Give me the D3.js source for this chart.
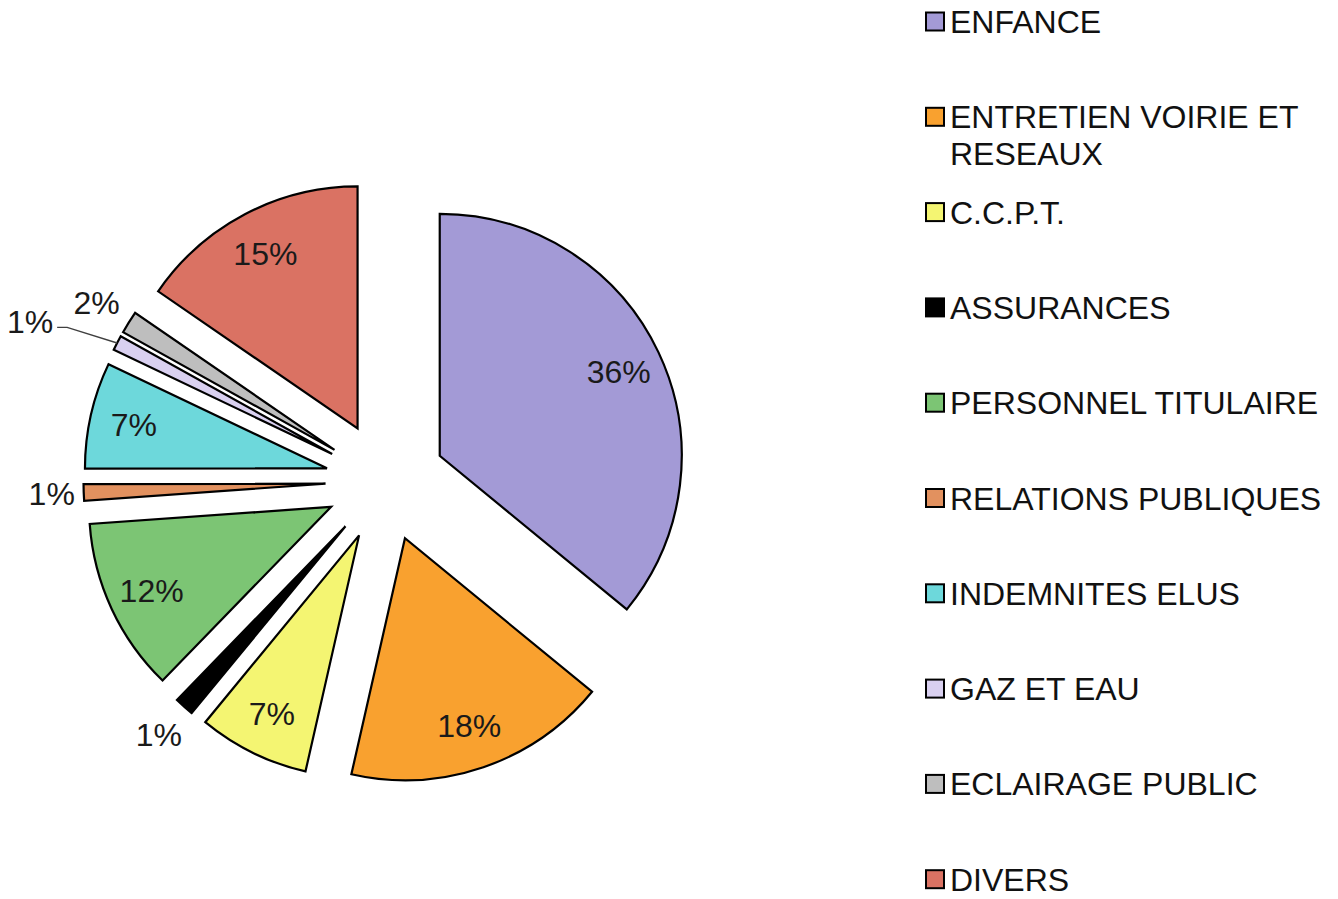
<!DOCTYPE html>
<html>
<head>
<meta charset="utf-8">
<script src="https://cdn.jsdelivr.net/npm/d3@7"></script>
<style>
  html, body { margin: 0; padding: 0; background: #ffffff; }
  svg { display: block; }
  text { font-family: "Liberation Sans", Arial, sans-serif; }
</style>
</head>
<body>
<svg id="chart" width="1338" height="899"></svg>
<script>
// ---- data ----
const categories = [
  "ENFANCE",
  "ENTRETIEN VOIRIE ET RESEAUX",
  "C.C.P.T.",
  "ASSURANCES",
  "PERSONNEL TITULAIRE",
  "RELATIONS PUBLIQUES",
  "INDEMNITES ELUS",
  "GAZ ET EAU",
  "ECLAIRAGE PUBLIC",
  "DIVERS"
];
const values = [35.9, 17.6, 7.4, 1.3, 11.6, 1.1, 7.1, 1.0, 1.5, 15.4];
const colors = [
  "#A39AD6", "#F9A12F", "#F4F572", "#000000", "#7CC574",
  "#E2915F", "#6DD8DB", "#D9D0F0", "#BEBEBE", "#DA7263"
];

// ---- layout ----
const W = 1338, H = 899;
const cx = 385.5, cy = 481.5;
const R = 242;
const explode = 60;
const fontSize = 32;
const capShift = 0.36 * fontSize; // baseline offset to centre capitals

const svg = d3.select("#chart");
svg.append("rect").attr("width", W).attr("height", H).attr("fill", "#fff");

const total = d3.sum(values);
const data = categories.map((c, i) => ({ name: c, value: values[i], color: colors[i] }));

const pie = d3.pie().sort(null).value(d => d.value);
const arcs = pie(data);
const arc = d3.arc().innerRadius(0).outerRadius(R);

const g = svg.append("g").attr("transform", `translate(${cx},${cy})`);

function dir(a) { return [Math.sin(a), -Math.cos(a)]; }

arcs.forEach(a => {
  const mid = (a.startAngle + a.endAngle) / 2;
  const [dx, dy] = dir(mid);
  a.ox = dx * explode;
  a.oy = dy * explode;
  a.mid = mid;
});

g.selectAll("path.slice")
  .data(arcs)
  .join("path")
  .attr("class", "slice")
  .attr("transform", d => `translate(${d.ox},${d.oy})`)
  .attr("d", arc)
  .attr("fill", d => d.data.color)
  .attr("stroke", "#000")
  .attr("stroke-width", 2.2)
  .attr("stroke-linejoin", "miter");

// ---- data labels ----
const pct = d => Math.round(d.data.value / total * 100) + "%";
const smallThreshold = 3; // percent: labels placed outside
const insideR = 198, outsideR = 280;

arcs.forEach((d, i) => {
  const share = d.data.value / total * 100;
  let r = share < smallThreshold ? outsideR : insideR;
  let ang = d.mid;
  let leader = false;
  if (d.data.name === "GAZ ET EAU") { r = 330; ang = d.mid - 3.6 * Math.PI / 180; leader = true; }
  if (d.data.name === "RELATIONS PUBLIQUES") { r = 274; }
  const [ux, uy] = dir(ang);
  const lx = d.ox + ux * r, ly = d.oy + uy * r;
  const t = g.append("text")
    .attr("x", lx).attr("y", ly + capShift)
    .attr("text-anchor", "middle")
    .attr("font-size", fontSize)
    .attr("fill", "#1a1a1a")
    .text(pct(d));
  if (leader) {
    const w = t.node().getComputedTextLength();
    const [mx, my] = dir(d.mid);
    const ex = d.ox + mx * R, ey = d.oy + my * R;
    const sx = lx + w / 2 + 4, sy = ly + 6;
    g.insert("path", "text")
      .attr("d", `M${sx},${sy} L${sx + 10},${sy} L${ex},${ey}`)
      .attr("fill", "none")
      .attr("stroke", "#404040")
      .attr("stroke-width", 1.4);
  }
});

// ---- legend ----
const legX = 926, legY0 = 21.5, legStep = 95.3, sw = 18, maxW = 400, lineH = 37;
const leg = svg.append("g");
data.forEach((d, i) => {
  const y = legY0 + i * legStep;
  leg.append("rect")
    .attr("x", legX).attr("y", y - sw / 2)
    .attr("width", sw).attr("height", sw)
    .attr("fill", d.color)
    .attr("stroke", "#000").attr("stroke-width", 2);
  const t = leg.append("text")
    .attr("x", legX + 24).attr("y", y + capShift)
    .attr("font-size", fontSize)
    .attr("fill", "#111");
  // wrap words
  const words = d.name.split(" ");
  let line = [];
  let ts = t.append("tspan").attr("x", legX + 24).attr("dy", 0);
  words.forEach(w => {
    line.push(w);
    ts.text(line.join(" "));
    if (ts.node().getComputedTextLength() > maxW && line.length > 1) {
      line.pop();
      ts.text(line.join(" "));
      line = [w];
      ts = t.append("tspan").attr("x", legX + 24).attr("dy", lineH).text(w);
    }
  });
});
</script>
</body>
</html>
